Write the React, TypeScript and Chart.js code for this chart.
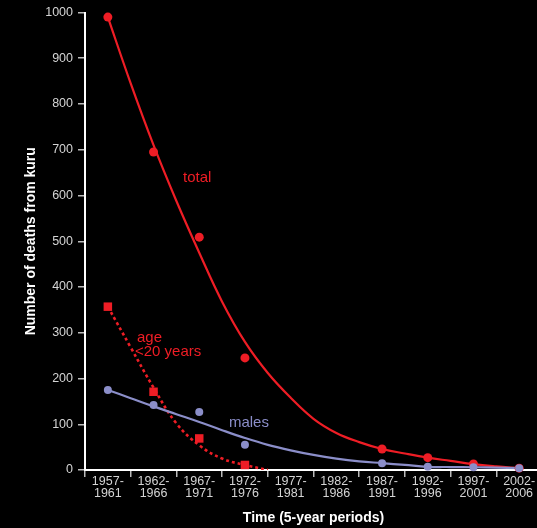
import { useEffect, useRef } from 'react';
import { Chart, registerables } from 'chart.js';

Chart.register(...registerables);

// ---- data ----
const periods: string[][] = [
  ['1957-', '1961'], ['1962-', '1966'], ['1967-', '1971'], ['1972-', '1976'], ['1977-', '1981'],
  ['1982-', '1986'], ['1987-', '1991'], ['1992-', '1996'], ['1997-', '2001'], ['2002-', '2006'],
];
const totalDeaths: (number | null)[] = [990, 695, 509, 245, null, null, 46, 27, 13, 4];
const maleDeaths: (number | null)[] = [175, 142, 127, 55, null, null, 15, 7, 6, 4];
const under20Deaths: (number | null)[] = [357, 171, 69, 11, null, null, null, null, null, null];

// fitted curves at half-category positions (index units)
const fitSteps = [0, 0.5, 1, 1.5, 2, 2.5, 3, 3.5, 4, 4.5, 5, 5.5, 6, 6.5, 7, 7.5, 8, 8.5, 9];
const totalFit = [990, 845, 710, 588, 475, 368, 280, 212, 158, 112, 81, 61, 46, 36, 27, 20, 13, 8, 4];
const malesFit = [175, 157, 139, 122, 105, 87, 70, 55, 43, 33, 25, 19, 15, 11, 7, 6.5, 6, 5, 4];
const under20Steps = [0, 0.5, 1, 1.5, 2, 2.5, 3, 3.5];
const under20Fit = [357, 268, 180, 102, 54, 25, 11, 0];

const yMin = 0;
const yMax = 1000;
const yStep = 100;

const labelTexts = ['total', 'age', '<20 years', 'males'];
const labelX = [1.644, 0.638, 0.594, 2.65];
const labelY = [638, 288, 258, 103];

const RED = '#ee1d25';
const LAV = '#8b8ec9';
const labelColors = [RED, RED, RED, LAV];

const FONT = '"Liberation Sans", Arial, Helvetica, sans-serif';

const toPoints = (vals: (number | null)[]) =>
  vals.map((v, i) => (v == null ? null : { x: i, y: v })).filter(Boolean) as { x: number; y: number }[];
const toCurve = (xs: number[], ys: number[]) => xs.map((x, i) => ({ x, y: ys[i] }));

const textPlugin = {
  id: 'curveLabels',
  afterDatasetsDraw(chart: any) {
    const { ctx, scales } = chart;
    const xs = scales.xl;
    const ys = scales.y;
    ctx.save();
    ctx.font = `15px ${FONT}`;
    ctx.textAlign = 'left';
    ctx.textBaseline = 'middle';
    labelTexts.forEach((t, i) => {
      ctx.fillStyle = labelColors[i];
      ctx.fillText(t, xs.getPixelForValue(labelX[i]), ys.getPixelForValue(labelY[i]));
    });
    ctx.restore();
  },
};

export default function App() {
  const ref = useRef<HTMLCanvasElement | null>(null);

  useEffect(() => {
    document.body.style.background = '#000';
    const canvas = ref.current;
    if (!canvas) return;
    Chart.defaults.font.family = FONT;
    const chart = new Chart(canvas, {
      type: 'line',
      data: {
        labels: periods,
        datasets: [
          {
            label: 'males points',
            data: toPoints(maleDeaths),
            xAxisID: 'xl',
            showLine: false,
            pointRadius: 4,
            pointBackgroundColor: LAV,
            pointBorderWidth: 0,
            borderColor: LAV,
            clip: false,
          },
          {
            label: 'age points',
            data: toPoints(under20Deaths),
            xAxisID: 'xl',
            showLine: false,
            pointStyle: 'rect',
            pointRadius: 6,
            pointBackgroundColor: RED,
            pointBorderWidth: 0,
            borderColor: RED,
            clip: false,
          },
          {
            label: 'total points',
            data: toPoints(totalDeaths),
            xAxisID: 'xl',
            showLine: false,
            pointRadius: 4.5,
            pointBackgroundColor: RED,
            pointBorderWidth: 0,
            borderColor: RED,
            clip: false,
          },
          {
            label: 'males fit',
            data: toCurve(fitSteps, malesFit),
            xAxisID: 'xl',
            borderColor: LAV,
            borderWidth: 2.2,
            pointRadius: 0,
            tension: 0.4,
            fill: false,
          },
          {
            label: 'age fit',
            data: toCurve(under20Steps, under20Fit),
            xAxisID: 'xl',
            borderColor: RED,
            borderWidth: 2.6,
            borderDash: [3, 3],
            pointRadius: 0,
            tension: 0.4,
            fill: false,
          },
          {
            label: 'total fit',
            data: toCurve(fitSteps, totalFit),
            xAxisID: 'xl',
            borderColor: RED,
            borderWidth: 2.2,
            pointRadius: 0,
            tension: 0.4,
            fill: false,
          },
        ],
      },
      options: {
        responsive: false,
        animation: false,
        layout: { padding: { left: 0, top: 12.3, right: 8, bottom: 0 } },
        plugins: { legend: { display: false }, tooltip: { enabled: false } },
        scales: {
          xl: { type: 'linear', min: -0.5, max: 9.5, display: false },
          x: {
            type: 'category',
            position: 'bottom',
            offset: true,
            afterFit: (s: any) => { s.height = 58; },
            grid: { offset: true, drawOnChartArea: false, drawTicks: true, tickLength: 7, color: '#bbbbbb', lineWidth: 1.5 },
            border: { display: true, color: '#ffffff', width: 2 },
            ticks: {
              color: '#d4d4d4',
              font: { size: 12.5, lineHeight: 0.96 },
              padding: -1,
              maxRotation: 0,
              autoSkip: false,
            },
            title: {
              display: true,
              text: 'Time (5-year periods)',
              color: '#ffffff',
              font: { size: 14, weight: 'bold' },
              padding: { top: 0, bottom: 1.6 },
            },
          },
          y: {
            type: 'linear',
            position: 'left',
            min: yMin,
            max: yMax,
            afterFit: (s: any) => { s.width = 85; },
            grid: { drawOnChartArea: false, drawTicks: true, tickLength: 7, color: '#bbbbbb', lineWidth: 1.5 },
            border: { display: true, color: '#ffffff', width: 2 },
            ticks: {
              stepSize: yStep,
              color: '#d4d4d4',
              font: { size: 12.5 },
              padding: 5,
              callback: (v: any) => String(v),
            },
            title: {
              display: true,
              text: 'Number of deaths from kuru',
              color: '#ffffff',
              font: { size: 14, weight: 'bold' },
              padding: { top: 22.6, bottom: 0 },
            },
          },
        },
      },
      plugins: [textPlugin],
    } as any);
    return () => chart.destroy();
  }, []);

  return (
    <div style={{ position: 'fixed', left: 0, top: 0, width: 537, height: 528, overflow: 'hidden', background: '#000' }}>
      <canvas ref={ref} width={550} height={528} style={{ display: 'block' }} />
    </div>
  );
}
